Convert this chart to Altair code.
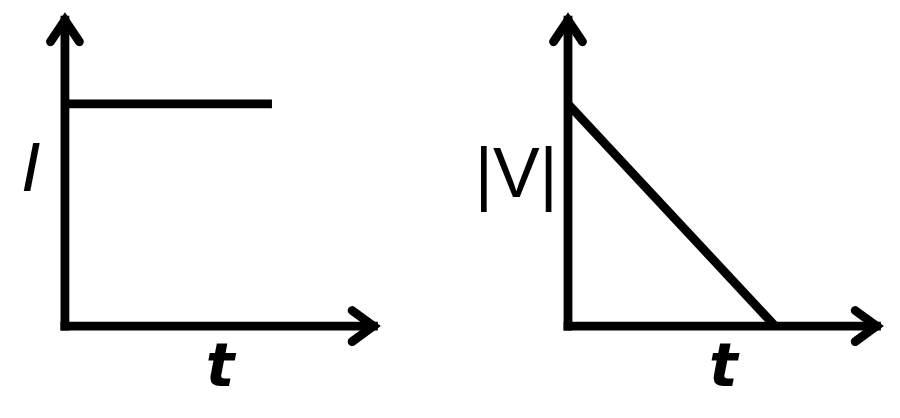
import altair as alt
import pandas as pd

# ---- data ----
t_values = [0.0, 1.0]
current_values = [1.0, 1.0]      # I is constant
voltage_values = [1.0, 0.0]      # |V| falls linearly to zero
t_axis_end = 1.49                # arrow tip of the t axis
y_axis_end = 1.377               # arrow tip of the vertical axis

left_labels = {"y": "I", "t": "t"}
right_labels = {"y": "|V|", "t": "t"}

# ---- scales / layout ----
left_x_domain = [-0.275, 1.860]
right_x_domain = [-0.570, 1.565]
y_domain = [-0.369, 1.432]
PANEL_W = 442
PANEL_H = 400
STROKE = 8.8
# arrowhead arm lengths in data units
HEAD_ALONG_X, HEAD_SIDE_Y = 0.103, 0.070
HEAD_SIDE_X, HEAD_ALONG_Y = 0.070, 0.097


def arrowheads_frame():
    rows = []
    # right-pointing head at the end of the t axis
    for i, (x, y) in enumerate([(t_axis_end - HEAD_ALONG_X, HEAD_SIDE_Y),
                                (t_axis_end, 0.0),
                                (t_axis_end - HEAD_ALONG_X, -HEAD_SIDE_Y)]):
        rows.append({"head": "t", "o": i, "x": x, "y": y})
    # up-pointing head at the end of the vertical axis
    for i, (x, y) in enumerate([(-HEAD_SIDE_X, y_axis_end - HEAD_ALONG_Y),
                                (0.0, y_axis_end),
                                (HEAD_SIDE_X, y_axis_end - HEAD_ALONG_Y)]):
        rows.append({"head": "v", "o": i, "x": x, "y": y})
    return pd.DataFrame(rows)


def panel(values, labels, x_domain, ylab_pos, tlab_pos, ylab_style):
    xs = alt.Scale(domain=x_domain, nice=False, zero=False)
    ys = alt.Scale(domain=y_domain, nice=False, zero=False)

    series = pd.DataFrame({"t": t_values, "v": values})
    curve = alt.Chart(series).mark_line(
        color="black", strokeWidth=STROKE, strokeCap="butt", clip=True
    ).encode(
        x=alt.X("t:Q", scale=xs, axis=None),
        y=alt.Y("v:Q", scale=ys, axis=None),
    )

    axes_df = pd.DataFrame({
        "x": [0.0, 0.0], "y": [0.0, 0.0],
        "x2": [t_axis_end, 0.0], "y2": [0.0, y_axis_end],
    })
    axes = alt.Chart(axes_df).mark_rule(
        color="black", strokeWidth=STROKE, strokeCap="square", clip=True
    ).encode(
        x=alt.X("x:Q", scale=xs, axis=None), x2="x2:Q",
        y=alt.Y("y:Q", scale=ys, axis=None), y2="y2:Q",
    )

    heads = alt.Chart(arrowheads_frame()).mark_line(
        color="black", strokeWidth=STROKE,
        strokeCap="round", strokeJoin="miter", clip=True,
    ).encode(
        x=alt.X("x:Q", scale=xs, axis=None),
        y=alt.Y("y:Q", scale=ys, axis=None),
        detail="head:N",
        order="o:Q",
    )

    ylab = alt.Chart(pd.DataFrame({
        "x": [ylab_pos[0]], "y": [ylab_pos[1]], "label": [labels["y"]],
    })).mark_text(
        color="black", align="center", baseline="middle", **ylab_style
    ).encode(
        x=alt.X("x:Q", scale=xs, axis=None),
        y=alt.Y("y:Q", scale=ys, axis=None),
        text="label:N",
    )

    tlab = alt.Chart(pd.DataFrame({
        "x": [tlab_pos[0]], "y": [tlab_pos[1]], "label": [labels["t"]],
    })).mark_text(
        color="black", align="center", baseline="middle",
        font="DejaVu Sans", fontSize=60, fontStyle="italic", fontWeight="bold",
    ).encode(
        x=alt.X("x:Q", scale=xs, axis=None),
        y=alt.Y("y:Q", scale=ys, axis=None),
        text="label:N",
    )

    return alt.layer(axes, curve, heads, ylab, tlab).properties(
        width=PANEL_W, height=PANEL_H
    )


left = panel(
    current_values, left_labels, left_x_domain,
    (-0.16, 0.70), (0.75, -0.19),
    dict(font="DejaVu Sans", fontSize=66, fontStyle="italic", fontWeight="normal"),
)
right = panel(
    voltage_values, right_labels, right_x_domain,
    (-0.25, 0.676), (0.75, -0.19),
    dict(font="Liberation Sans", fontSize=70, fontWeight="normal"),
)

chart = alt.hconcat(left, right, spacing=0).properties(
    padding=0, background="white",
).configure_view(stroke=None)

chart.save("out.html", embed_options={"renderer": "svg", "actions": False})
